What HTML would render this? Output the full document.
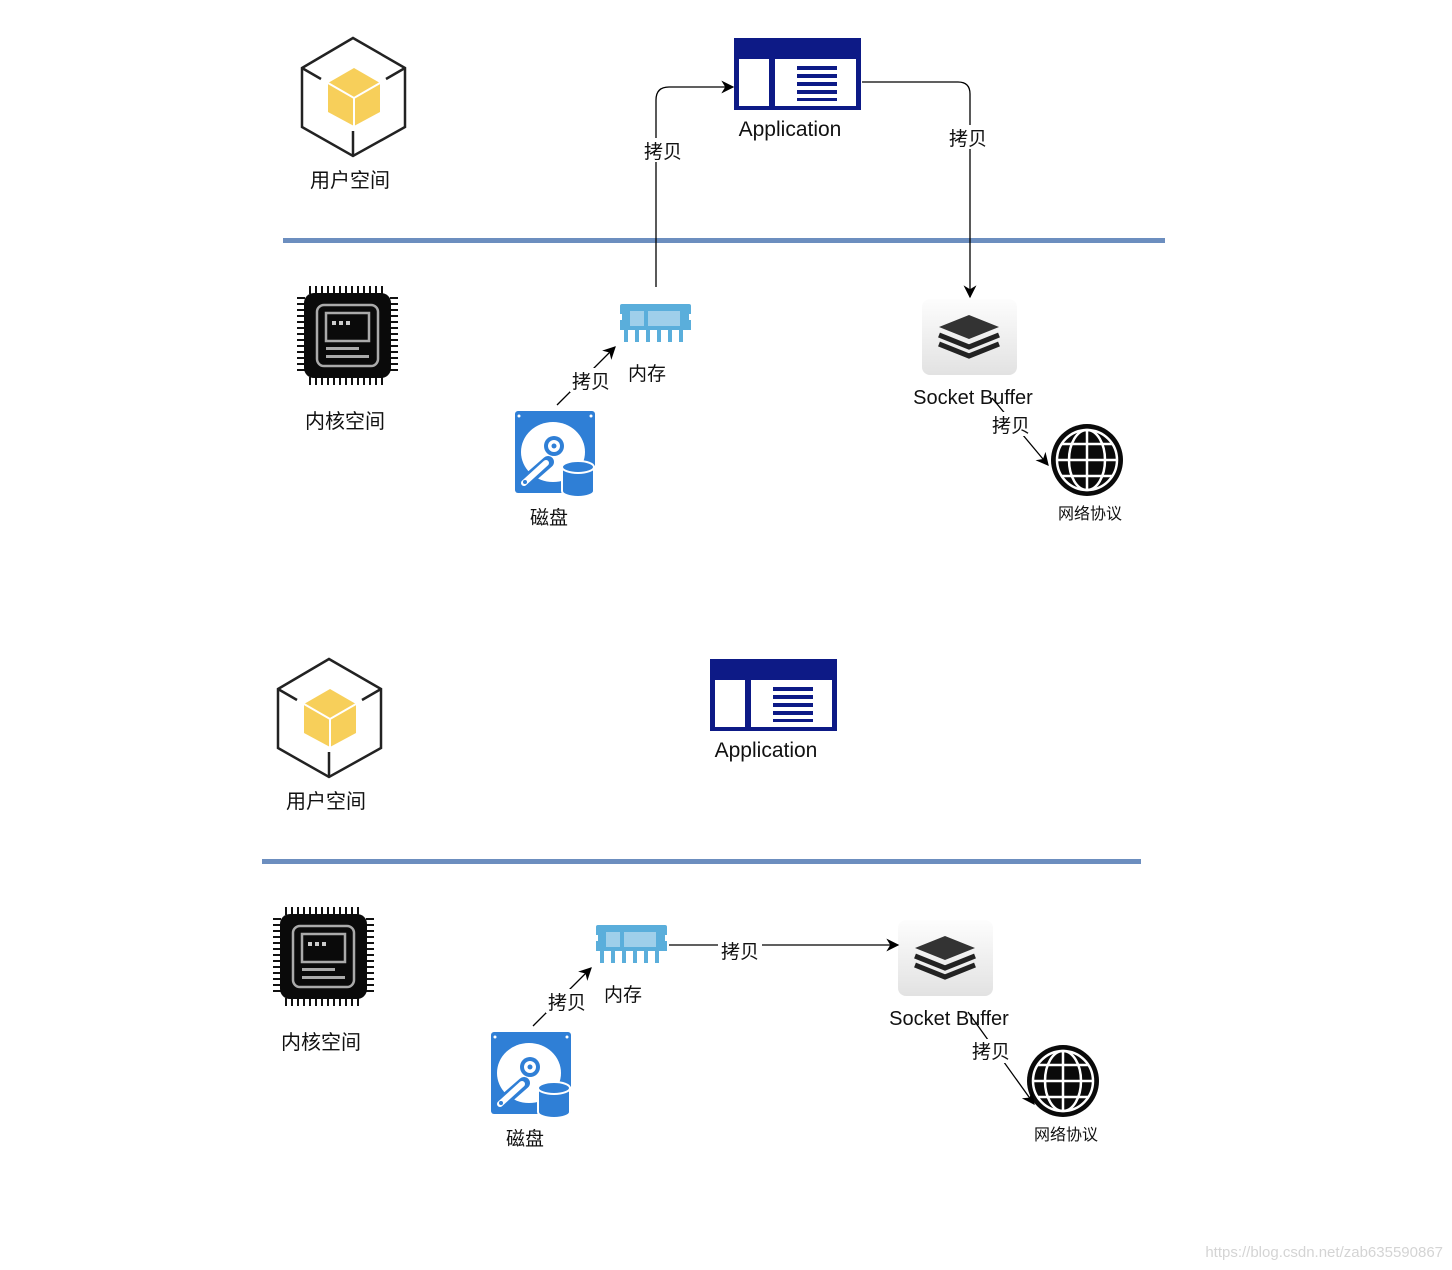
<!DOCTYPE html>
<html><head><meta charset="utf-8"><style>
html,body{margin:0;padding:0;background:#fff}
svg{display:block}
text{font-family:"Liberation Sans","Noto Sans CJK SC",sans-serif;fill:#111}
</style></head><body>
<svg width="1452" height="1270" viewBox="0 0 1452 1270" xmlns="http://www.w3.org/2000/svg">
<defs>
<marker id="ar" viewBox="0 0 10 10" refX="9" refY="5" markerWidth="13" markerHeight="13" markerUnits="userSpaceOnUse" orient="auto"><path d="M0,0 L10,5 L0,10 L3,5 Z" fill="#000"/></marker>
<linearGradient id="sg" x1="0" y1="0" x2="0" y2="1"><stop offset="0" stop-color="#fdfdfd"/><stop offset="1" stop-color="#e2e2e2"/></linearGradient>
<g id="cube">
<path d="M353,38 L405,68 L405,127 L353,156 L302,127 L302,68 Z" fill="none" stroke="#222" stroke-width="2.5"/>
<path d="M354,68 L380,83 L380,112 L354,126 L328,112 L328,83 Z" fill="#f7cf5a"/>
<path d="M328,83 L354,98 L380,83 M354,98 L354,126" stroke="#fff" stroke-width="2" fill="none"/>
<path d="M302,68 L321,79 M405,68 L386,79 M353,156 L353,131" stroke="#222" stroke-width="2.5"/>
</g>
<g id="app">
<rect x="734" y="38" width="127" height="72" fill="#0d1a86"/>
<rect x="739" y="59" width="30" height="47" fill="#fff"/>
<rect x="775" y="59" width="81" height="47" fill="#fff"/>
<rect x="797" y="66" width="40" height="4" fill="#0d1a86"/>
<rect x="797" y="74" width="40" height="4" fill="#0d1a86"/>
<rect x="797" y="82" width="40" height="4" fill="#0d1a86"/>
<rect x="797" y="90" width="40" height="4" fill="#0d1a86"/>
<rect x="797" y="98" width="40" height="3" fill="#0d1a86"/>
</g>
<g id="chip">
<g stroke="#111" stroke-width="2">
<path d="M310,286 v8 M316,286 v8 M322,286 v8 M328,286 v8 M334,286 v8 M340,286 v8 M346,286 v8 M352,286 v8 M358,286 v8 M364,286 v8 M370,286 v8 M376,286 v8 M382,286 v8"/>
<path d="M310,377 v8 M316,377 v8 M322,377 v8 M328,377 v8 M334,377 v8 M340,377 v8 M346,377 v8 M352,377 v8 M358,377 v8 M364,377 v8 M370,377 v8 M376,377 v8 M382,377 v8"/>
<path d="M297,298 h8 M297,304 h8 M297,310 h8 M297,316 h8 M297,322 h8 M297,328 h8 M297,334 h8 M297,340 h8 M297,346 h8 M297,352 h8 M297,358 h8 M297,364 h8 M297,370 h8"/>
<path d="M390,298 h8 M390,304 h8 M390,310 h8 M390,316 h8 M390,322 h8 M390,328 h8 M390,334 h8 M390,340 h8 M390,346 h8 M390,352 h8 M390,358 h8 M390,364 h8 M390,370 h8"/>
</g>
<rect x="304" y="293" width="87" height="85" rx="10" fill="#0a0a0a"/>
<rect x="317" y="305" width="61" height="61" rx="7" fill="none" stroke="#aaa" stroke-width="2.5"/>
<rect x="326" y="313" width="43" height="28" fill="none" stroke="#aaa" stroke-width="2.5"/>
<rect x="332" y="321" width="4" height="4" fill="#ccc"/><rect x="339" y="321" width="4" height="4" fill="#ccc"/><rect x="346" y="321" width="4" height="4" fill="#ccc"/>
<rect x="326" y="347" width="33" height="3" fill="#aaa"/>
<rect x="326" y="355" width="43" height="3" fill="#aaa"/>
</g>
<g id="mem">
<path d="M620,304 h69 a2,2 0 0 1 2,2 v8 h-2 v6 h2 v10 h-71 v-10 h2 v-6 h-2 v-8 a2,2 0 0 1 2,-2 Z" fill="#5aaedb"/>
<rect x="630" y="311" width="14" height="15" fill="#9fcfea"/>
<rect x="648" y="311" width="32" height="15" fill="#9fcfea"/>
<g fill="#5aaedb"><rect x="624" y="330" width="4" height="12"/><rect x="635" y="330" width="4" height="12"/><rect x="646" y="330" width="4" height="12"/><rect x="657" y="330" width="4" height="12"/><rect x="668" y="330" width="4" height="12"/><rect x="679" y="330" width="4" height="12"/></g>
</g>
<g id="disk">
<rect x="515" y="411" width="80" height="82" rx="3" fill="#2f7fd6"/>
<circle cx="519" cy="416" r="1.5" fill="#fff"/><circle cx="591" cy="416" r="1.5" fill="#fff"/>
<ellipse cx="553" cy="452" rx="32" ry="30" fill="#fff"/>
<circle cx="554" cy="446" r="10" fill="#2f7fd6"/>
<circle cx="554" cy="446" r="6" fill="#fff"/><circle cx="554" cy="446" r="2.5" fill="#2f7fd6"/>
<path d="M524,483 L548,462" stroke="#2f7fd6" stroke-width="12" stroke-linecap="round"/>
<path d="M524,483 L546,463" stroke="#fff" stroke-width="6" stroke-linecap="round"/>
<circle cx="525" cy="482" r="2" fill="#2f7fd6"/>
<path d="M562,467 v24 a16,6 0 0 0 32,0 v-24 Z" fill="#2f7fd6" stroke="#fff" stroke-width="2"/>
<ellipse cx="578" cy="467" rx="16" ry="6" fill="#2f7fd6" stroke="#fff" stroke-width="2"/>
</g>
<g id="sock">
<rect x="922" y="299" width="95" height="76" rx="8" fill="url(#sg)"/>
<path d="M969,315 L999,327 L969,339 L939,327 Z" fill="#333"/>
<path d="M939,335 L969,347 L999,335 M939,344 L969,356 L999,344" fill="none" stroke="#222" stroke-width="5"/>
</g>
<g id="globe">
<circle cx="1087" cy="460" r="36" fill="#0a0a0a"/>
<g fill="none" stroke="#fff" stroke-width="2.5">
<circle cx="1087" cy="460" r="30"/>
<ellipse cx="1087" cy="460" rx="18" ry="30"/>
<path d="M1087,430 v60 M1057,460 h60 M1062,444 h50 M1062,476 h50"/>
</g>
</g>
</defs>

<use href="#cube"/>
<text x="350" y="187" font-size="20" text-anchor="middle">用户空间</text>
<use href="#app"/>
<text x="790" y="136" font-size="21" text-anchor="middle">Application</text>
<rect x="283" y="238" width="882" height="5" fill="#6c8ebf"/>
<path d="M656,287 V100 Q656,87 669,87 H733" fill="none" stroke="#000" stroke-width="1.3" marker-end="url(#ar)"/>
<rect x="640" y="138" width="32" height="24" fill="#fff"/>
<text x="663" y="158" font-size="19" text-anchor="middle">拷贝</text>
<path d="M862,82 H958 Q970,82 970,94 V297" fill="none" stroke="#000" stroke-width="1.3" marker-end="url(#ar)"/>
<rect x="946" y="125" width="44" height="24" fill="#fff"/>
<text x="968" y="145" font-size="19" text-anchor="middle">拷贝</text>
<use href="#chip"/>
<text x="345" y="428" font-size="20" text-anchor="middle">内核空间</text>
<use href="#mem"/>
<text x="647" y="380" font-size="19" text-anchor="middle">内存</text>
<use href="#disk"/>
<text x="549" y="524" font-size="19" text-anchor="middle">磁盘</text>
<path d="M557,405 L615,347" stroke="#000" stroke-width="1.3" marker-end="url(#ar)"/>
<rect x="570" y="368" width="42" height="24" fill="#fff"/>
<text x="591" y="388" font-size="19" text-anchor="middle">拷贝</text>
<use href="#sock"/>
<text x="973" y="404" font-size="20" text-anchor="middle">Socket Buffer</text>
<path d="M992,398 L1048,465" stroke="#000" stroke-width="1.3" marker-end="url(#ar)"/>
<rect x="990" y="412" width="42" height="24" fill="#fff"/>
<text x="1011" y="432" font-size="19" text-anchor="middle">拷贝</text>
<use href="#globe"/>
<text x="1090" y="519" font-size="16" text-anchor="middle">网络协议</text>

<g transform="translate(-24,621)">
<use href="#cube"/>
<text x="350" y="187" font-size="20" text-anchor="middle">用户空间</text>
<use href="#app"/>
<text x="790" y="136" font-size="21" text-anchor="middle">Application</text>
<use href="#chip"/>
<use href="#mem"/>
<text x="647" y="380" font-size="19" text-anchor="middle">内存</text>
<use href="#disk"/>
<text x="549" y="524" font-size="19" text-anchor="middle">磁盘</text>
<path d="M557,405 L615,347" stroke="#000" stroke-width="1.3" marker-end="url(#ar)"/>
<rect x="570" y="368" width="42" height="24" fill="#fff"/>
<text x="591" y="388" font-size="19" text-anchor="middle">拷贝</text>
<use href="#sock"/>
<text x="973" y="404" font-size="20" text-anchor="middle">Socket Buffer</text>
<use href="#globe"/>
<text x="1090" y="519" font-size="16" text-anchor="middle">网络协议</text>
</g>
<rect x="262" y="859" width="879" height="5" fill="#6c8ebf"/>
<text x="321" y="1049" font-size="20" text-anchor="middle">内核空间</text>
<path d="M669,945 L898,945" stroke="#000" stroke-width="1.3" marker-end="url(#ar)"/>
<rect x="718" y="938" width="44" height="24" fill="#fff"/>
<text x="740" y="958" font-size="19" text-anchor="middle">拷贝</text>
<path d="M968,1012 L1034,1104" stroke="#000" stroke-width="1.3" marker-end="url(#ar)"/>
<rect x="969" y="1039" width="44" height="24" fill="#fff"/>
<text x="991" y="1058" font-size="19" text-anchor="middle">拷贝</text>

<text x="1443" y="1257" font-size="15" text-anchor="end" style="fill:#d4d4d4">https://blog.csdn.net/zab635590867</text>
</svg>
</body></html>
